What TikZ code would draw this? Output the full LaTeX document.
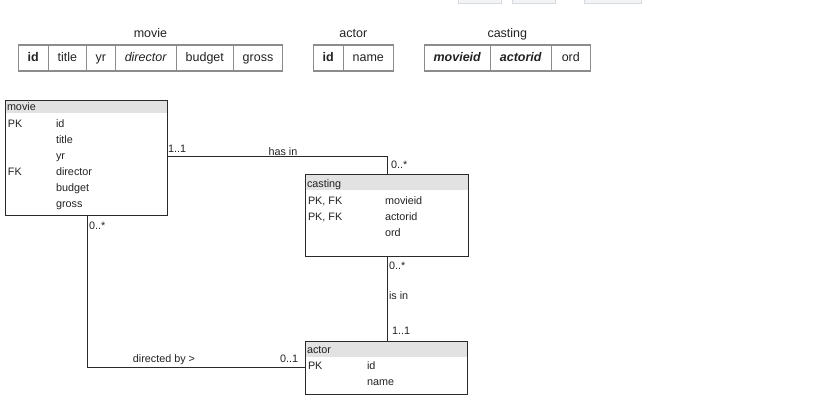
\documentclass[tikz,border=0pt]{standalone}
\usepackage{fontspec}
\setmainfont{Liberation Sans}
\begin{document}
\begin{tikzpicture}[x=1pt,y=-1pt,
  every node/.style={inner sep=0pt,outer sep=0pt},
  cell/.style={draw=tablegray,line width=1.1pt,minimum height=26pt,anchor=north west,
    text height=9.2pt,text depth=2.6pt,font=\fontsize{12.5}{14}\selectfont,text=textdark},
  tabtitle/.style={font=\fontsize{12.5}{14}\selectfont,text=textdark,text height=9.2pt,text depth=2.6pt},
  entity/.style={draw=boxline,line width=0.9pt,anchor=north west},
  etext/.style={font=\fontsize{10.8}{12}\selectfont,text=textdark,anchor=west,text height=7.9pt,text depth=2.3pt,yshift=-1.3pt},
  link/.style={draw=boxline,line width=0.9pt},
  card/.style={font=\fontsize{10.8}{12}\selectfont,text=textdark,text height=7.9pt,text depth=2.3pt,yshift=-1.3pt}
]
\definecolor{tablegray}{HTML}{8C8C8C}
\definecolor{textdark}{HTML}{222222}
\definecolor{boxline}{HTML}{2A2A2A}
\definecolor{headgray}{HTML}{E2E2E2}
\definecolor{tabfrag}{HTML}{F3F4F6}
\definecolor{fragline}{HTML}{D8DADF}

\useasboundingbox (0,0) rectangle (838,406);
\clip (0,0) rectangle (838,406);

% toolbar buttons cut off at the top edge
\draw[fragline,fill=tabfrag] (458,-12) rectangle (501.5,3);
\draw[fragline,fill=tabfrag] (512.5,-12) rectangle (555.5,3);
\draw[fragline,fill=tabfrag] (584.5,-12) rectangle (641.5,3);

% ---------- relational schema tables ----------
\node[tabtitle] (tmovie) at (150.5,34) {movie};
\node[cell,minimum width=30pt] (m1) at (18.3,45) {\textbf{id}};
\node[cell,minimum width=38pt] (m2) at (48.3,45) {title};
\node[cell,minimum width=29pt] (m3) at (86.3,45) {yr};
\node[cell,minimum width=61pt] (m4) at (115.3,45) {\textit{director}};
\node[cell,minimum width=57pt] (m5) at (176.3,45) {budget};
\node[cell,minimum width=49.4pt] (m6) at (233.3,45) {gross};

\node[tabtitle] (tactor) at (353.3,34) {actor};
\node[cell,minimum width=30pt] (a1) at (313.3,45) {\textbf{id}};
\node[cell,minimum width=50pt] (a2) at (343.3,45) {name};

\node[tabtitle] (tcasting) at (507.3,34) {casting};
\node[cell,minimum width=66pt] (c1) at (424.3,45) {\textbf{\textit{movieid}}};
\node[cell,minimum width=61pt] (c2) at (490.3,45) {\textbf{\textit{actorid}}};
\node[cell,minimum width=39pt] (c3) at (551.3,45) {ord};

% ---------- entity boxes ----------
% movie
\fill[headgray] (5,100) rectangle (167,113);
\node[entity,minimum width=162pt,minimum height=115pt] (movie) at (5,100) {};
\node[etext] (mh) at (7,106) {movie};
\node[etext] (mpk) at (8,123) {PK};
\node[etext] (mid) at (56,123) {id};
\node[etext] (mtitle) at (56,139) {title};
\node[etext] (myr) at (56,155) {yr};
\node[etext] (mfk) at (8,171) {FK};
\node[etext] (mdir) at (56,171) {director};
\node[etext] (mbud) at (56,187) {budget};
\node[etext] (mgross) at (56,203) {gross};

% casting
\fill[headgray] (305,174) rectangle (468,190);
\node[entity,minimum width=163pt,minimum height=82pt] (casting) at (305,174) {};
\node[etext] (ch) at (307,183) {casting};
\node[etext] (cpk1) at (308,200) {PK, FK};
\node[etext] (cmid) at (385,200) {movieid};
\node[etext] (cpk2) at (308,216) {PK, FK};
\node[etext] (caid) at (385,216) {actorid};
\node[etext] (cord) at (385,232) {ord};

% actor
\fill[headgray] (305,341) rectangle (467,357);
\node[entity,minimum width=162pt,minimum height=53pt] (actor) at (305,341) {};
\node[etext] (ah) at (307,349) {actor};
\node[etext] (apk) at (308,365) {PK};
\node[etext] (aid) at (367,365) {id};
\node[etext] (aname) at (367,381) {name};

% ---------- relationships ----------
\draw[link] ([yshift=-56pt]movie.north east) -| ([xshift=82pt]casting.north west);
\node[card,anchor=west] (c11a) at (168,148) {1..1};
\node[card] (lhasin) at (283,151) {has in};
\node[card,anchor=west] (c0sa) at (391,164) {0..*};

\draw[link] ([xshift=82pt]casting.south west) -- ([xshift=82pt]actor.north west);
\node[card,anchor=west] (c0sb) at (389,265) {0..*};
\node[card,anchor=west] (lisin) at (389,295) {is in};
\node[card,anchor=west] (c11b) at (392,330) {1..1};

\draw[link] ([xshift=82pt]movie.south west) |- ([yshift=-26.5pt]actor.north west);
\node[card,anchor=west] (c0sc) at (89,225) {0..*};
\node[card] (ldir) at (164,358) {directed by >};
\node[card,anchor=west] (c01) at (280,358) {0..1};
\end{tikzpicture}
\end{document}
